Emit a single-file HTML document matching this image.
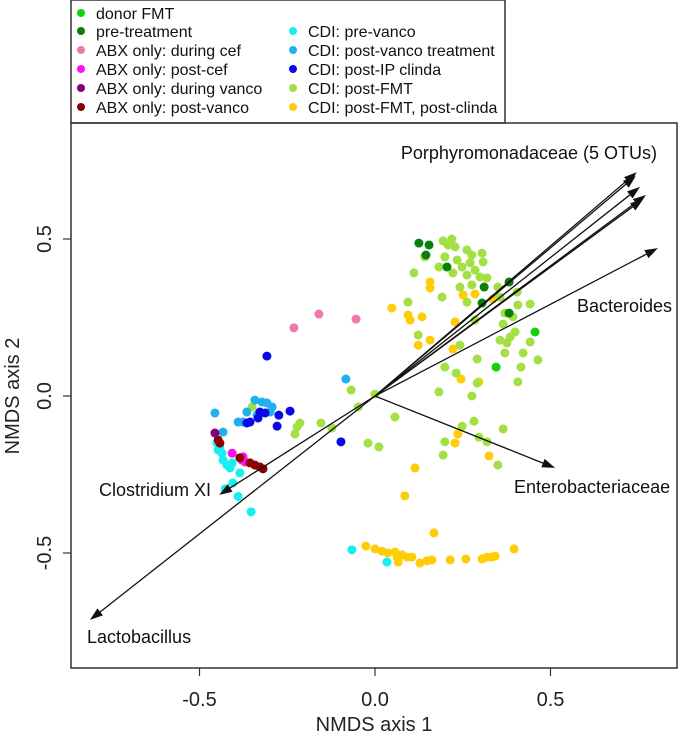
<!DOCTYPE html>
<html><head><meta charset="utf-8">
<style>
html,body{margin:0;padding:0;background:#fff;}
svg{display:block;font-family:"Liberation Sans",Arial,sans-serif;}
</style></head>
<body>
<svg id="chart" width="680" height="738" viewBox="0 0 680 738">
  <rect x="71" y="0" width="434" height="123" fill="#fff" stroke="#333" stroke-width="1.5"/>
  <g id="legend"></g>
  <rect x="71" y="123" width="606" height="545" fill="none" stroke="#333" stroke-width="1.5"/>
  <g id="axes"></g>
  <g id="points"></g>
  <g id="vectors"></g>
  <text x="374" y="731" font-size="20" text-anchor="middle" fill="#222">NMDS axis 1</text>
  <text transform="translate(19,396) rotate(-90)" font-size="20" text-anchor="middle" fill="#222">NMDS axis 2</text>
</svg>
<script>
const groupNames = ["donor FMT","pre-treatment","ABX only: during cef","ABX only: post-cef","ABX only: during vanco","ABX only: post-vanco","CDI: pre-vanco","CDI: post-vanco treatment","CDI: post-IP clinda","CDI: post-FMT","CDI: post-FMT, post-clinda"];
const groupColors = ["#10d010","#0a800a","#f078b0","#ff10f0","#800080","#8b0000","#18eef4","#20b0ee","#0808e8","#a2e044","#ffcc08"];
const xTicks = [-0.5, 0.0, 0.5];
const xTickLabels = ["-0.5","0.0","0.5"];
const yTicks = [-0.5, 0.0, 0.5];
const yTickLabels = ["-0.5","0.0","0.5"];

const postFMT_x = [0.194,0.219,0.228,0.208,0.262,0.276,0.305,0.199,0.234,0.271,0.308,0.248,0.285,0.222,0.262,0.299,0.319,0.242,0.276,0.262,0.191,0.142,0.111,0.182,0.350,0.356,0.405,0.407,0.442,0.370,0.393,0.365,0.356,0.385,0.399,0.376,0.442,0.422,0.370,0.291,0.464,0.094,0.123,0.242,0.285,0.199,0.231,0.291,0.182,0.276,0.407,0.416,-0.068,-0.048,0.057,0.000,0.282,0.248,0.365,0.296,0.319,0.199,0.194,0.350,-0.020,0.011,-0.123,-0.350,-0.222,-0.214,-0.228,-0.154];
const postFMT_y = [0.494,0.500,0.475,0.481,0.465,0.449,0.455,0.443,0.433,0.424,0.427,0.411,0.401,0.392,0.385,0.379,0.376,0.347,0.354,0.299,0.315,0.443,0.392,0.411,0.347,0.315,0.331,0.290,0.293,0.264,0.252,0.229,0.178,0.188,0.204,0.169,0.172,0.137,0.137,0.118,0.115,0.299,0.194,0.162,0.242,0.092,0.073,0.041,0.013,0.000,0.045,0.092,0.019,-0.035,-0.067,0.006,-0.080,-0.096,-0.105,-0.131,-0.146,-0.146,-0.188,-0.220,-0.150,-0.162,-0.102,-0.035,-0.099,-0.086,-0.121,-0.086];
const postClinda_x = [0.048,0.157,0.157,0.251,0.285,0.336,0.094,0.100,0.134,0.228,0.123,0.157,0.222,0.245,0.296,0.236,0.228,0.325,0.114,0.085,0.168,-0.026,0.000,0.020,0.037,0.057,0.063,0.077,0.091,0.105,0.066,0.128,0.148,0.162,0.214,0.259,0.305,0.319,0.333,0.342,0.396];
const postClinda_y = [0.280,0.363,0.344,0.322,0.325,0.309,0.258,0.242,0.252,0.236,0.162,0.178,0.150,0.054,0.045,-0.121,-0.150,-0.191,-0.229,-0.318,-0.436,-0.478,-0.487,-0.494,-0.500,-0.497,-0.513,-0.506,-0.513,-0.513,-0.529,-0.532,-0.525,-0.522,-0.522,-0.519,-0.519,-0.513,-0.513,-0.510,-0.487];
const preTreat_x = [0.125,0.154,0.145,0.205,0.311,0.382,0.305,0.382];
const preTreat_y = [0.487,0.481,0.449,0.411,0.347,0.363,0.296,0.264];
const donor_x = [0.456,0.345];
const donor_y = [0.204,0.092];
const duringCef_x = [-0.231,-0.160,-0.054];
const duringCef_y = [0.217,0.261,0.245];
const postCef_x = [-0.407,-0.379,-0.370,-0.376];
const postCef_y = [-0.182,-0.204,-0.210,-0.194];
const duringVanco_x = [-0.456];
const duringVanco_y = [-0.118];
const postVanco_x = [-0.447,-0.442,-0.385,-0.356,-0.342,-0.328,-0.319];
const postVanco_y = [-0.140,-0.150,-0.197,-0.213,-0.220,-0.226,-0.232];
const preVancoCDI_x = [-0.450,-0.442,-0.436,-0.433,-0.422,-0.407,-0.413,-0.385,-0.405,-0.427,-0.447,-0.353,-0.390,-0.066,0.034];
const preVancoCDI_y = [-0.150,-0.166,-0.182,-0.204,-0.220,-0.213,-0.229,-0.245,-0.277,-0.296,-0.172,-0.369,-0.320,-0.490,-0.529];
const postVancoTx_x = [-0.456,-0.433,-0.390,-0.376,-0.342,-0.322,-0.308,-0.293,-0.336,-0.365,-0.299,-0.083];
const postVancoTx_y = [-0.054,-0.115,-0.083,-0.083,-0.013,-0.019,-0.022,-0.035,-0.061,-0.051,-0.051,0.054];
const postIP_x = [-0.308,-0.328,-0.313,-0.333,-0.365,-0.356,-0.274,-0.279,-0.242,-0.097];
const postIP_y = [0.127,-0.051,-0.054,-0.070,-0.086,-0.083,-0.061,-0.096,-0.048,-0.146];

const vectorNames = ["Porphyromonadaceae 1","Porphyromonadaceae 2","Porphyromonadaceae 3","Porphyromonadaceae 4","Porphyromonadaceae 5","Bacteroides","Enterobacteriaceae","Clostridium XI","Lactobacillus"];
const vector_x = [0.746,0.743,0.755,0.772,0.764,0.806,0.513,-0.444,-0.812];
const vector_y = [0.713,0.701,0.666,0.640,0.627,0.471,-0.229,-0.315,-0.713];

const NS = "http://www.w3.org/2000/svg";
const X0 = 375, XS = 351, Y0 = 396, YS = 314;
function sx(v){ return X0 + XS*v; }
function sy(v){ return Y0 - YS*v; }
function mk(tag, attrs, parent){
  const e = document.createElementNS(NS, tag);
  for (const k in attrs) e.setAttribute(k, attrs[k]);
  parent.appendChild(e);
  return e;
}

// legend
const lg = document.getElementById('legend');
const legendPos = [[81,13],[81,31],[81,50],[81,69],[81,88],[81,107],[293,31],[293,50],[293,69],[293,88],[293,107]];
groupNames.forEach((n,i)=>{
  const g = mk('g',{},lg);
  
  
  mk('circle',{cx:legendPos[i][0],cy:legendPos[i][1],r:4,fill:groupColors[i]},g);
  const t = mk('text',{x:legendPos[i][0]+15,y:legendPos[i][1]+6,'font-size':16,fill:'#111'},g);
  t.textContent = n;
});

// axes
const ax = document.getElementById('axes');
xTicks.forEach((v,i)=>{
  const l = mk('line',{x1:sx(v),x2:sx(v),y1:668,y2:676,stroke:'#333','stroke-width':1.2},ax);
  
  
  const t = mk('text',{x:sx(v),y:706,'font-size':20,'text-anchor':'middle',fill:'#222'},ax);
  
  
  t.textContent = xTickLabels[i];
});
yTicks.forEach((v,i)=>{
  const l = mk('line',{x1:63,x2:71,y1:sy(v),y2:sy(v),stroke:'#333','stroke-width':1.2},ax);
  
  
  const t = mk('text',{transform:`translate(51,${sy(v)}) rotate(-90)`,'font-size':20,'text-anchor':'middle',fill:'#222'},ax);
  
  
  t.textContent = yTickLabels[i];
});

// points
const pg = document.getElementById('points');
const series = [
  [postClinda_x,postClinda_y,10],[postFMT_x,postFMT_y,9],[preTreat_x,preTreat_y,1],[donor_x,donor_y,0],
  [duringCef_x,duringCef_y,2],[preVancoCDI_x,preVancoCDI_y,6],[postVancoTx_x,postVancoTx_y,7],[postIP_x,postIP_y,8],
  [postCef_x,postCef_y,3],[postVanco_x,postVanco_y,5],[duringVanco_x,duringVanco_y,4]
];
series.forEach(s=>{
  const xs=s[0], ys=s[1], gi=s[2];
  for (let i=0;i<xs.length;i++){
    const c = mk('circle',{cx:sx(xs[i]),cy:sy(ys[i]),r:4.5,fill:groupColors[gi]},pg);
    
    
  }
});

// vectors
const vg = document.getElementById('vectors');
vector_x.forEach((vx,i)=>{
  const x2=sx(vx), y2=sy(vector_y[i]);
  const dx=x2-X0, dy=y2-Y0, L=Math.hypot(dx,dy), ux=dx/L, uy=dy/L;
  const hl=13, hw=4.5;
  const bx=x2-ux*hl, by=y2-uy*hl;
  const g = mk('g',{},vg);
  
  
  mk('line',{x1:X0,y1:Y0,x2:bx,y2:by,stroke:'#111','stroke-width':1.3},g);
  mk('polygon',{points:`${x2},${y2} ${bx-uy*hw},${by+ux*hw} ${bx+uy*hw},${by-ux*hw}`,fill:'#111'},g);
});

const labels = [["Porphyromonadaceae (5 OTUs)",657,159,"end","porphyromonadaceae-label"],["Bacteroides",672,312,"end","bacteroides-label"],["Enterobacteriaceae",514,493,"start","enterobacteriaceae-label"],["Clostridium XI",211,496,"end","clostridium-label"],["Lactobacillus",87,643,"start","lactobacillus-label"]];
labels.forEach(l=>{
  const t = mk('text',{x:l[1],y:l[2],'font-size':18,'text-anchor':l[3],fill:'#111'},vg);
  
  
  t.textContent = l[0];
});
</script>
</body></html>
